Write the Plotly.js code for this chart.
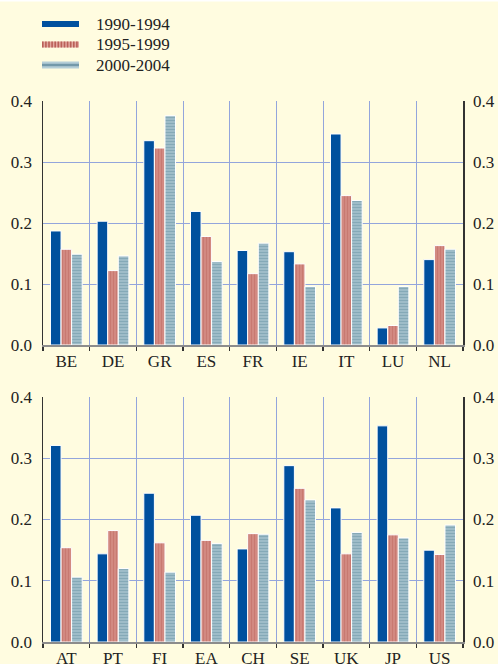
<!DOCTYPE html>
<html>
<head>
<meta charset="utf-8">
<script src="https://cdn.plot.ly/plotly-3.0.1.min.js"></script>
<style>
html,body{margin:0;padding:0;background:#FFFCE0;}
#chart{width:498px;height:664px;}
</style>
</head>
<body>
<div id="chart"></div>
<script>
const seriesNames = ["1990-1994", "1995-1999", "2000-2004"];

const catsTop = ["BE", "DE", "GR", "ES", "FR", "IE", "IT", "LU", "NL"];
const top9094 = [0.187, 0.203, 0.335, 0.219, 0.155, 0.153, 0.346, 0.028, 0.140];
const top9599 = [0.157, 0.122, 0.323, 0.178, 0.117, 0.133, 0.245, 0.032, 0.163];
const top0004 = [0.149, 0.146, 0.376, 0.137, 0.167, 0.096, 0.237, 0.096, 0.157];

const catsBot = ["AT", "PT", "FI", "EA", "CH", "SE", "UK", "JP", "US"];
const bot9094 = [0.321, 0.144, 0.243, 0.207, 0.152, 0.288, 0.219, 0.353, 0.150];
const bot9599 = [0.154, 0.182, 0.162, 0.166, 0.177, 0.251, 0.144, 0.175, 0.143];
const bot0004 = [0.106, 0.120, 0.114, 0.161, 0.176, 0.232, 0.179, 0.170, 0.191];

const yTicks = [0, 0.1, 0.2, 0.3, 0.4];

const blue = "#00509E";
const styles = [
  {color: blue, line: {color: "#FFFFFF", width: 1}},
  {color: "#D8968E", line: {color: "#FFFFFF", width: 1},
   pattern: {shape: "|", fgcolor: "#B85E55", bgcolor: "#D8948C", size: 3, solidity: 0.6, fillmode: "overlay"}},
  {color: "#A9C5CF", line: {color: "#FFFFFF", width: 1},
   pattern: {shape: "-", fgcolor: "#628DA0", bgcolor: "#A9C5CF", size: 3, solidity: 0.55, fillmode: "overlay"}}
];

function bars(cats, vals, i, xa, ya) {
  return {type: "bar", x: cats, y: vals, name: seriesNames[i], xaxis: xa, yaxis: ya,
          marker: styles[i], showlegend: false, hoverinfo: "x+y"};
}

const traces = [
  bars(catsTop, top9094, 0, "x", "y"),
  bars(catsTop, top9599, 1, "x", "y"),
  bars(catsTop, top0004, 2, "x", "y"),
  bars(catsBot, bot9094, 0, "x2", "y2"),
  bars(catsBot, bot9599, 1, "x2", "y2"),
  bars(catsBot, bot0004, 2, "x2", "y2")
];

const FF = "Liberation Serif";
const font = {family: FF, size: 17, color: "#222222"};
const gridC = "#93A5DC";

function xAxis(anchor) {
  return {type: "category", anchor: anchor, domain: [0, 1], tickson: "boundaries",
          showgrid: true, gridcolor: gridC, gridwidth: 1,
          showline: true, linecolor: "#8C8C8C", linewidth: 2,
          ticks: "outside", ticklen: 4, tickcolor: "#333", tickwidth: 1.2,
          tickfont: font, fixedrange: true};
}
function yAxis(anchor, dom) {
  return {anchor: anchor, domain: dom, range: [0, 0.4001], tickvals: yTicks, tickformat: ".1f",
          showgrid: true, gridcolor: gridC, gridwidth: 1, zeroline: false,
          showline: true, linecolor: "#333", linewidth: 1.5, ticks: "",
          ticklabelstandoff: 6, tickfont: font, fixedrange: true};
}
function yRight(over, dom) {
  return {overlaying: over, side: "right", anchor: over === "y" ? "x" : "x2", domain: dom,
          range: [0, 0.4001], tickvals: yTicks, tickformat: ".1f",
          showgrid: false, zeroline: false, showline: true, linecolor: "#333", linewidth: 1.5,
          ticks: "", ticklabelstandoff: 5, tickfont: font, fixedrange: true};
}

const domTop = [0.4804, 0.8479];
const domBot = [0.0331, 0.4021];

// legend (key) drawn in pixel-converted paper coords
const W = 420, H = 664, L = 43;
function px(x) { return (x - L) / W; }
function py(y) { return 1 - y / H; }
const keyRows = [24, 44.5, 65];
const keyX0 = 42, keyX1 = 79, textX = 94;
const shapes = [
  {type: "rect", xref: "paper", yref: "paper", x0: -0.2, x1: 1.2, y0: py(1.5), y1: 1.01,
   fillcolor: "#FFFFFF", line: {width: 0}, layer: "below"},
  {type: "line", xref: "paper", yref: "paper", x0: px(keyX0), x1: px(keyX1), y0: py(keyRows[0]), y1: py(keyRows[0]),
   line: {color: blue, width: 6}},
  {type: "line", xref: "paper", yref: "paper", x0: px(keyX0), x1: px(keyX1), y0: py(keyRows[1]), y1: py(keyRows[1]),
   line: {color: "#E2A8A0", width: 6}},
  {type: "line", xref: "paper", yref: "paper", x0: px(keyX0), x1: px(keyX1), y0: py(keyRows[1]), y1: py(keyRows[1]),
   line: {color: "#BA6058", width: 6, dash: "1.6px,1.5px"}},
  {type: "line", xref: "paper", yref: "paper", x0: px(keyX0), x1: px(keyX1), y0: py(keyRows[2]), y1: py(keyRows[2]),
   line: {color: "#B4CED7", width: 7}},
  {type: "line", xref: "paper", yref: "paper", x0: px(keyX0), x1: px(keyX1), y0: py(keyRows[2]), y1: py(keyRows[2]),
   line: {color: "#7399AA", width: 2.5}}
];
const annotations = seriesNames.map((n, i) => ({
  xref: "paper", yref: "paper", x: px(textX), y: py(keyRows[i]), xanchor: "left", yanchor: "middle",
  text: n, showarrow: false, font: font
}));

const layout = {
  width: 498, height: 664,
  margin: {l: 43, r: 35, t: 0, b: 0},
  paper_bgcolor: "#FFFCE0", plot_bgcolor: "#FFFCE0",
  font: font,
  barmode: "group", bargap: 0.32, bargroupgap: 0,
  xaxis: xAxis("y"),
  yaxis: yAxis("x", domTop),
  xaxis2: xAxis("y2"),
  yaxis2: yAxis("x2", domBot),
  yaxis3: yRight("y", domTop),
  yaxis4: yRight("y2", domBot),
  showlegend: false,
  shapes: shapes,
  annotations: annotations
};

traces.push({type: "scatter", mode: "none", x: [catsTop[0]], y: [null], xaxis: "x", yaxis: "y3", showlegend: false, hoverinfo: "skip"});
traces.push({type: "scatter", mode: "none", x: [catsBot[0]], y: [null], xaxis: "x2", yaxis: "y4", showlegend: false, hoverinfo: "skip"});

Plotly.newPlot("chart", traces, layout, {displayModeBar: false, staticPlot: true});
</script>
</body>
</html>
